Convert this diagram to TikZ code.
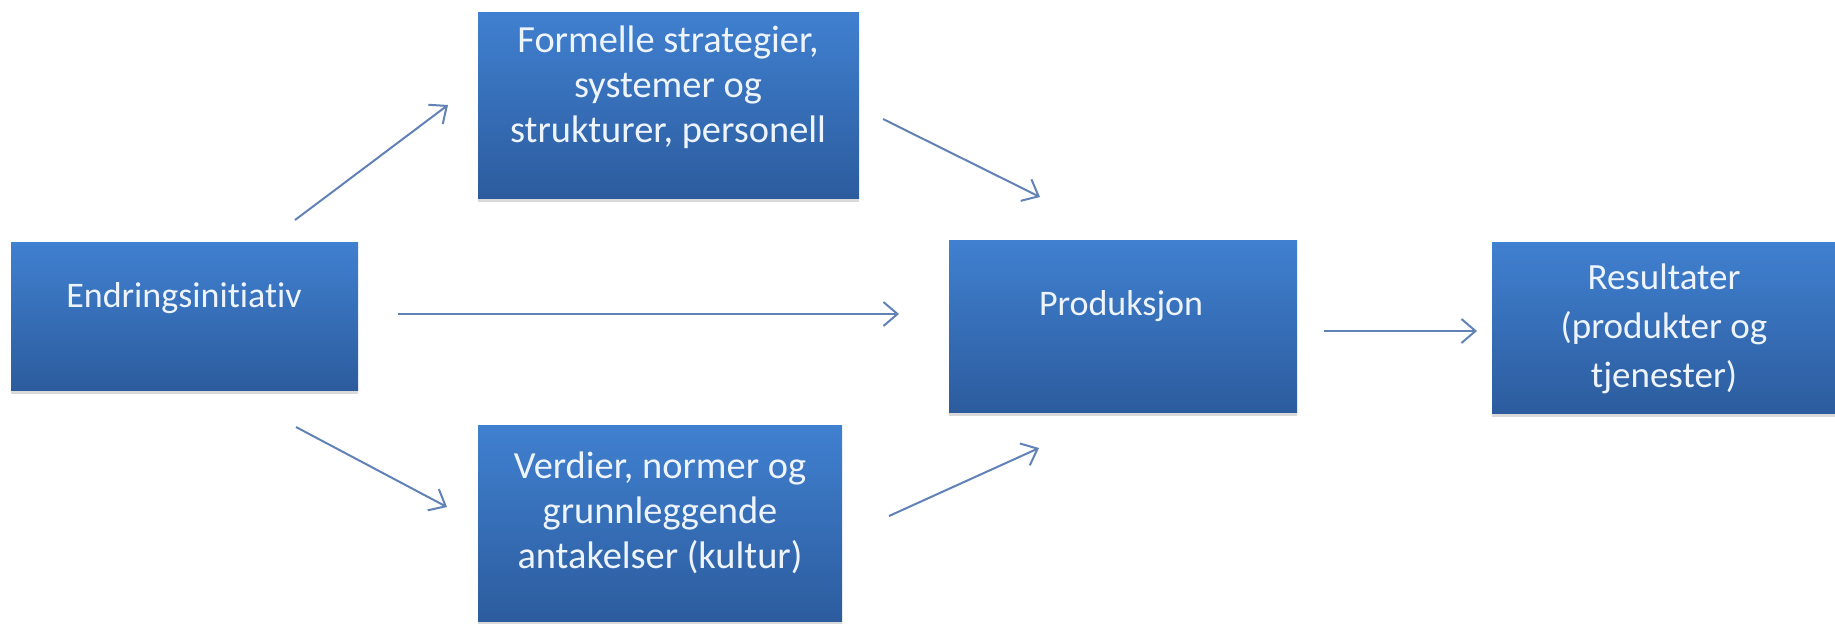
\documentclass[tikz,border=0pt]{standalone}
\usepackage{fontspec}
\setmainfont{Carlito}[Ligatures=NoCommon]
\usetikzlibrary{arrows.meta,shadows}
\definecolor{boxtop}{RGB}{64,128,208}
\definecolor{boxbot}{RGB}{44,92,158}
\definecolor{arrowc}{RGB}{96,130,182}
\definecolor{txtc}{RGB}{238,244,252}
\tikzset{
  box/.style={rectangle, draw=none, top color=boxtop, bottom color=boxbot,
    drop shadow={shadow xshift=0pt, shadow yshift=-2pt, opacity=0.25, fill=black!60}},
  lbl/.style={text=txtc, align=center, font=\fontsize{18}{22.5}\selectfont, inner sep=0pt, anchor=base},
  lblmid/.style={lbl, font=\fontsize{19.2}{22.5}\selectfont},
  lblbig/.style={lbl, font=\fontsize{18.5}{24.5}\selectfont},
  conn/.style={draw=arrowc, line width=1pt, -{Straight Barb[length=7pt,width=12pt,line width=1pt]}}
}
\begin{document}
\begin{tikzpicture}[x=0.5pt,y=-0.5pt]
\useasboundingbox (0,0) rectangle (1835,623);
% boxes
\path[box] (11,242) rectangle (358,390);
\path[box] (478,12) rectangle (859,198);
\path[box] (478,425) rectangle (842,621);
\path[box] (949,240) rectangle (1297,412);
\path[box] (1492,242) rectangle (1840,413);
% named nodes over the boxes
\node[minimum width=173.5pt, minimum height=74pt, inner sep=0pt] (endr) at (184.5,316) {};
\node[minimum width=190.5pt, minimum height=93pt, inner sep=0pt] (form) at (668.5,105) {};
\node[minimum width=182pt, minimum height=98pt, inner sep=0pt] (verd) at (660,523) {};
\node[minimum width=174pt, minimum height=86pt, inner sep=0pt] (prod) at (1123,326) {};
\node[minimum width=174pt, minimum height=85.5pt, inner sep=0pt] (res) at (1666,327.5) {};
% texts (anchor base = baseline of last line)
\node[lbl] (endrT) at (184,307) {Endringsinitiativ};
\node[lblmid] (formT) at (668,142) {Formelle strategier,\\systemer og\\strukturer, personell};
\node[lblmid] (verdT) at (660,568) {Verdier, normer og\\grunnleggende\\antakelser (kultur)};
\node[lbl] (prodT) at (1121,315) {Produksjon};
\node[lblbig] (resT) at (1664,387) {Resultater\\(produkter og\\tjenester)};
% connector end points
\coordinate (a1s) at (295,220); \coordinate (a1e) at (448,105);
\coordinate (a2s) at (883,119); \coordinate (a2e) at (1040,197);
\coordinate (a3s) at (398,314); \coordinate (a3e) at (899,314);
\coordinate (a4s) at (296,427); \coordinate (a4e) at (447,507);
\coordinate (a5s) at (889,516); \coordinate (a5e) at (1039,448);
\coordinate (a6s) at (1324,331); \coordinate (a6e) at (1477,331);
\draw[conn] (a1s) -- (a1e);
\draw[conn] (a2s) -- (a2e);
\draw[conn] (a3s) -- (a3e);
\draw[conn] (a4s) -- (a4e);
\draw[conn] (a5s) -- (a5e);
\draw[conn] (a6s) -- (a6e);
\end{tikzpicture}
\end{document}
